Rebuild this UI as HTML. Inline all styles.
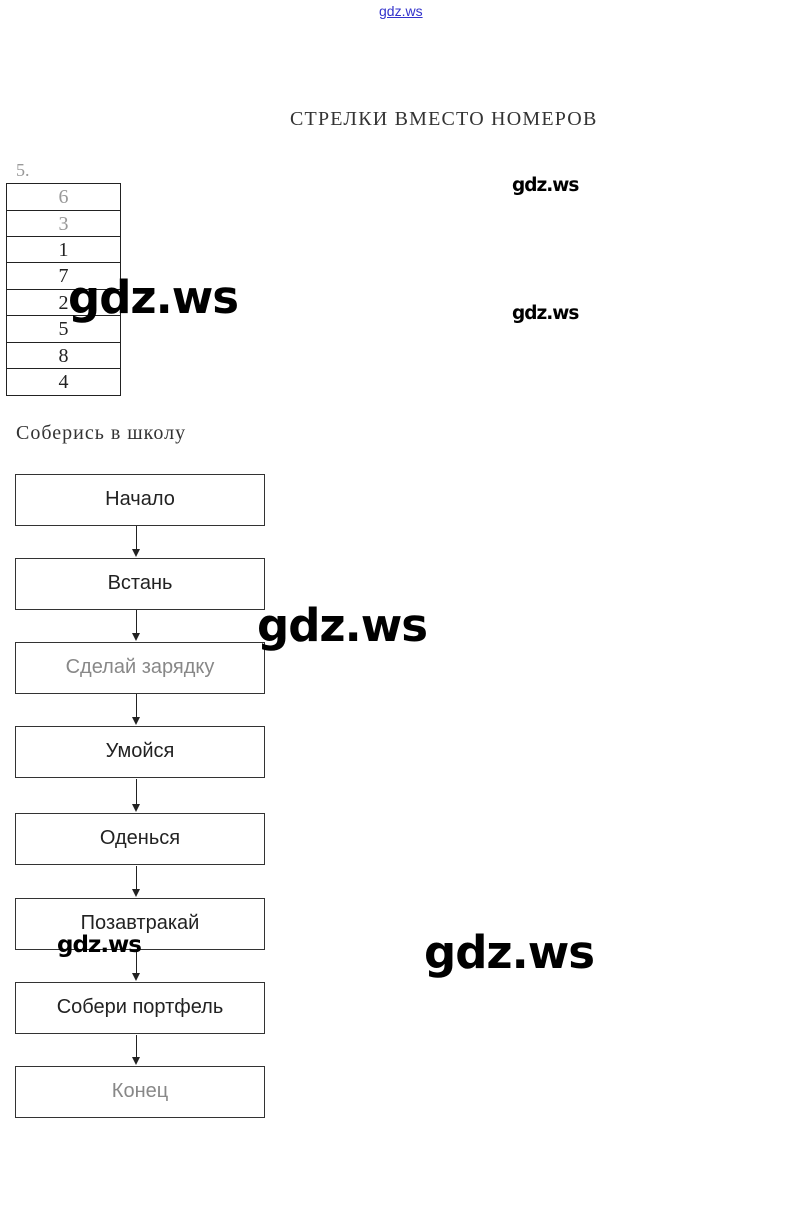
<!DOCTYPE html>
<html><head><meta charset="utf-8"><style>
body{margin:0;width:811px;height:1227px;background:#fff;position:relative;overflow:hidden;font-family:"Liberation Sans",sans-serif}
.a{position:absolute}
.s{font-family:"Liberation Serif",serif;color:#333}
.r{position:absolute;left:6px;width:113px;height:26px;border:1px solid #222;border-bottom:none;font-family:"Liberation Serif",serif;font-size:20px;text-align:center;line-height:27px;color:#222}
.b{position:absolute;left:15px;width:248px;height:50px;border:1px solid #333;text-align:center;line-height:48px;font-size:20px;color:#222}
.w{position:absolute;font-family:"DejaVu Sans",sans-serif;color:#000;font-weight:bold;letter-spacing:-1px}
.ln{position:absolute;left:136px;width:1px;background:#222}
.ar{position:absolute;left:132px;width:0;height:0;border-left:4px solid transparent;border-right:4px solid transparent;border-top:8px solid #222}
</style></head><body>
<div class="a" style="left:379px;top:3px;font-size:14px;color:#33c;text-decoration:underline">gdz.ws</div>
<div class="a s" style="left:290px;top:108px;font-size:20px;letter-spacing:1.2px">СТРЕЛКИ ВМЕСТО НОМЕРОВ</div>
<div class="a s" style="left:16px;top:160px;font-size:18px;color:#999">5.</div>
<div class="r" style="top:183px;color:#999">6</div>
<div class="r" style="top:210px;color:#999">3</div>
<div class="r" style="top:236px">1</div>
<div class="r" style="top:262px">7</div>
<div class="r" style="top:289px">2</div>
<div class="r" style="top:315px">5</div>
<div class="r" style="top:342px">8</div>
<div class="r" style="top:368px;border-bottom:1px solid #222">4</div>
<div class="w" style="left:512px;top:175px;font-size:18.5px">gdz.ws</div>
<div class="w" style="left:512px;top:303px;font-size:18.5px">gdz.ws</div>
<div class="w" style="left:68px;top:271px;font-size:45px">gdz.ws</div>
<div class="a s" style="left:16px;top:422px;font-size:20px;letter-spacing:1px">Соберись в школу</div>
<div class="b" style="top:474px">Начало</div>
<div class="b" style="top:558px">Встань</div>
<div class="b" style="top:642px;color:#888">Сделай зарядку</div>
<div class="b" style="top:726px">Умойся</div>
<div class="b" style="top:813px">Оденься</div>
<div class="b" style="top:898px">Позавтракай</div>
<div class="b" style="top:982px">Собери портфель</div>
<div class="b" style="top:1066px;color:#888">Конец</div>
<div class="ln" style="top:526px;height:24px"></div><div class="ar" style="top:549px"></div>
<div class="ln" style="top:610px;height:24px"></div><div class="ar" style="top:633px"></div>
<div class="ln" style="top:694px;height:24px"></div><div class="ar" style="top:717px"></div>
<div class="ln" style="top:779px;height:26px"></div><div class="ar" style="top:804px"></div>
<div class="ln" style="top:866px;height:24px"></div><div class="ar" style="top:889px"></div>
<div class="ln" style="top:951px;height:23px"></div><div class="ar" style="top:973px"></div>
<div class="ln" style="top:1035px;height:23px"></div><div class="ar" style="top:1057px"></div>
<div class="w" style="left:257px;top:599px;font-size:45px">gdz.ws</div>
<div class="w" style="left:424px;top:926px;font-size:45px">gdz.ws</div>
<div class="w" style="left:57px;top:932px;font-size:23px">gdz.ws</div>
</body></html>
